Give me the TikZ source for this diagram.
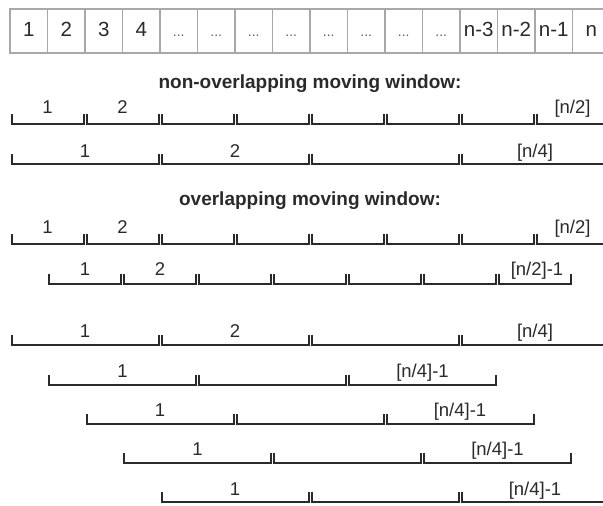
\documentclass[tikz,border=0pt]{standalone}
\usepackage{fontspec}
\setmainfont{Liberation Sans}
\definecolor{cellgray}{HTML}{A8A8A8}
\definecolor{ink}{HTML}{2A2A2A}
\begin{document}
\begin{tikzpicture}[x=1pt,y=-1pt,
  cellbox/.style={draw=cellgray, line width=1.3pt, minimum width=37.5pt, minimum height=44pt,
    inner sep=0pt, text height=15pt, text depth=3.5pt, text=ink,
    font=\fontsize{20.5}{20.5}\selectfont},
  dotsbox/.style={cellbox, font=\fontsize{14}{14}\selectfont, text=ink!75},
  brk/.style={draw=ink, line width=2pt},
  lbl/.style={anchor=base, inner sep=0pt, text=ink, font=\fontsize{18.5}{18.5}\selectfont},
  head/.style={anchor=base, inner sep=0pt, text=ink, font=\fontsize{19}{19}\selectfont\bfseries}]
\useasboundingbox (0,0) rectangle (603,506);
\clip (0,0) rectangle (603,506);
\fill[white] (0,0) rectangle (603,506);
% top row of cells
\foreach \t [count=\i] in {1,2,3,4} {
  \node[cellbox] (c\i) at ({10+37.5*(\i-1)+18.75},31) {\t};
}
\foreach \i in {5,...,12} {
  \node[dotsbox] (c\i) at ({10+37.5*(\i-1)+18.75},31) {...};
}
\foreach \t [count=\j] in {n-3,n-2,n-1,n} {
  \pgfmathtruncatemacro{\i}{\j+12}
  \node[cellbox] (c\i) at ({10+37.5*(\i-1)+18.75},31) {\t};
}
% headings
\node[head] (h1) at (310,88) {non-overlapping moving window:};
\node[head] (h2) at (310,205) {overlapping moving window:};
% brackets
\foreach \s/\w/\n/\y in {10/75/8/124, 10/150/4/164, 10/75/8/244, 47.5/75/7/284,
    10/150/4/345, 47.5/150/3/385, 85/150/3/424, 122.5/150/3/463, 160/150/3/502} {
  \foreach \k in {1,...,\n} {
    \draw[brk] ({\s+(\k-1)*\w+1.5},{\y-10}) -- ({\s+(\k-1)*\w+1.5},\y)
      -- ({\s+\k*\w-1.5},\y) -- ({\s+\k*\w-1.5},{\y-10});
  }
}
% labels
\node[lbl] (r1a) at (47.5,113) {1};
\node[lbl] (r1b) at (122.5,113) {2};
\node[lbl] (r1c) at (572.5,113) {[n/2]};
\node[lbl] (r2a) at (85,157) {1};
\node[lbl] (r2b) at (235,157) {2};
\node[lbl] (r2c) at (535,157) {[n/4]};
\node[lbl] (r3a) at (47.5,233) {1};
\node[lbl] (r3b) at (122.5,233) {2};
\node[lbl] (r3c) at (572.5,233) {[n/2]};
\node[lbl] (r4a) at (85,275) {1};
\node[lbl] (r4b) at (160,275) {2};
\node[lbl] (r4c) at (537,275) {[n/2]-1};
\node[lbl] (r5a) at (85,337) {1};
\node[lbl] (r5b) at (235,337) {2};
\node[lbl] (r5c) at (535,337) {[n/4]};
\node[lbl] (r6a) at (122.5,377) {1};
\node[lbl] (r6c) at (422.5,377) {[n/4]-1};
\node[lbl] (r7a) at (160,416) {1};
\node[lbl] (r7c) at (460,416) {[n/4]-1};
\node[lbl] (r8a) at (197.5,455) {1};
\node[lbl] (r8c) at (497.5,455) {[n/4]-1};
\node[lbl] (r9a) at (235,495) {1};
\node[lbl] (r9c) at (535,495) {[n/4]-1};
\end{tikzpicture}
\end{document}
